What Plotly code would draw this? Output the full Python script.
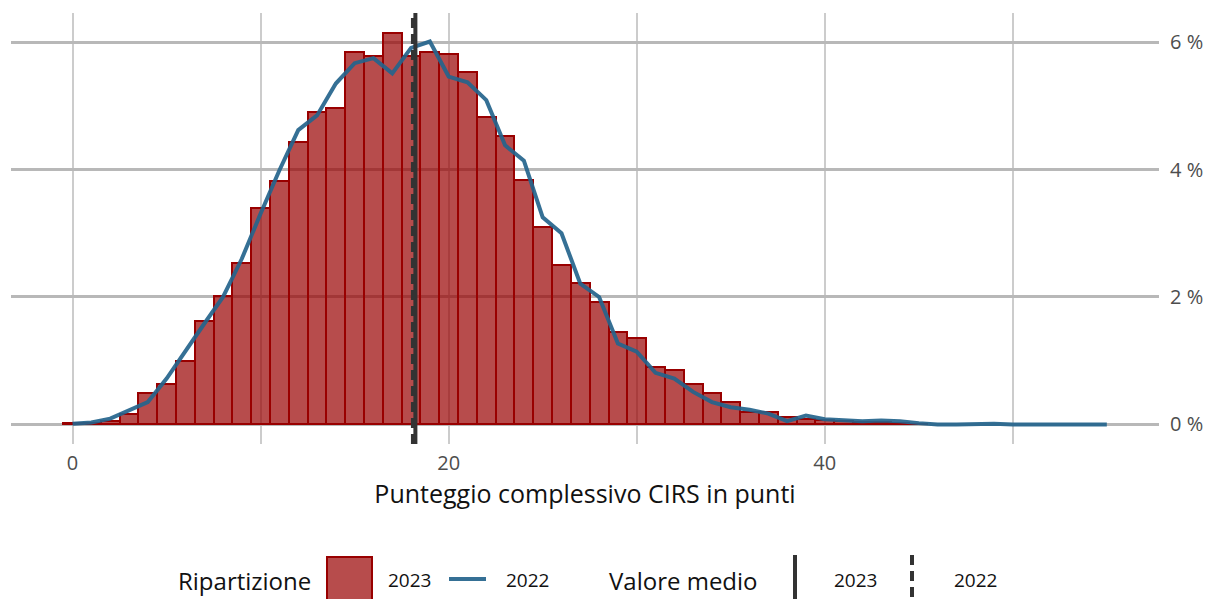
import plotly.graph_objects as go

# ── Data ──────────────────────────────────────────────────────────────────────
# share of patients per CIRS total score (in %), 2023 histogram (bins of 1 point)
score_2023 = list(range(0, 46))
share_2023 = [0.03, 0.02, 0.05, 0.17, 0.49, 0.63, 0.99, 1.63, 2.01, 2.54,
              3.39, 3.82, 4.43, 4.91, 4.96, 5.84, 5.78, 6.15, 5.79, 5.84,
              5.82, 5.53, 4.82, 4.52, 3.83, 3.10, 2.50, 2.22, 1.92, 1.45,
              1.36, 0.90, 0.86, 0.63, 0.50, 0.35, 0.19, 0.19, 0.12, 0.08,
              0.07, 0.05, 0.04, 0.04, 0.02, 0.01]

# 2022 distribution (line)
score_2022 = list(range(0, 56))
share_2022 = [0.01, 0.03, 0.09, 0.22, 0.35, 0.72, 1.16, 1.58, 2.00, 2.60,
              3.31, 3.99, 4.62, 4.85, 5.35, 5.67, 5.75, 5.51, 5.91, 6.01,
              5.46, 5.37, 5.09, 4.38, 4.14, 3.25, 3.00, 2.21, 2.00, 1.27,
              1.14, 0.81, 0.72, 0.51, 0.35, 0.27, 0.23, 0.17, 0.05, 0.14,
              0.08, 0.07, 0.05, 0.06, 0.05, 0.02, 0.00, 0.00, 0.01, 0.01,
              0.00, 0.00, 0.00, 0.00, 0.00, 0.00]

mean_2023 = 18.23
mean_2022 = 18.10

x_ticks = [0, 20, 40]
y_ticks = [0, 2, 4, 6]
y_tick_labels = ["0 %", "2 %", "4 %", "6 %"]

# ── Style ─────────────────────────────────────────────────────────────────────
FONT       = "Open Sans"
BAR_FILL   = "rgba(153,0,0,0.7)"
BAR_LINE   = "#990000"
LINE_2022  = "rgba(36,100,140,0.92)"
MEAN_COLOR = "#333333"
DASH       = "10px,6px"

W, H = 1207, 599
L, R, T, B = 11, 48, 13, 155


def px(x):
    return (x - L) / (W - L - R)


def py(y):
    return (H - B - y) / (H - T - B)


fig = go.Figure()

fig.add_trace(go.Bar(
    x=score_2023, y=share_2023, width=1,
    marker=dict(color=BAR_FILL, line=dict(color=BAR_LINE, width=2)),
    name="2023", showlegend=False,
))

fig.add_trace(go.Scatter(
    x=score_2022, y=share_2022, mode="lines",
    line=dict(color=LINE_2022, width=4),
    name="2022", showlegend=False,
))

# mean lines
fig.add_shape(type="line", xref="x", yref="paper", x0=mean_2023, x1=mean_2023,
              y0=0, y1=1, line=dict(color=MEAN_COLOR, width=4), layer="above")
fig.add_shape(type="line", xref="x", yref="paper", x0=mean_2022, x1=mean_2022,
              y0=0, y1=1, line=dict(color=MEAN_COLOR, width=4, dash=DASH), layer="above")

# ── Custom legend (bottom) ────────────────────────────────────────────────────
ly = 580
fig.add_shape(type="rect", xref="paper", yref="paper",
              x0=px(327), x1=px(372), y0=py(557), y1=py(603),
              fillcolor=BAR_FILL, line=dict(color=BAR_LINE, width=2))
fig.add_shape(type="line", xref="paper", yref="paper",
              x0=px(449), x1=px(486), y0=py(579), y1=py(579),
              line=dict(color=LINE_2022, width=4))
fig.add_shape(type="line", xref="paper", yref="paper",
              x0=px(795), x1=px(795), y0=py(555), y1=py(605),
              line=dict(color=MEAN_COLOR, width=4))
fig.add_shape(type="line", xref="paper", yref="paper",
              x0=px(912), x1=px(912), y0=py(555), y1=py(605),
              line=dict(color=MEAN_COLOR, width=4, dash=DASH))

legend_texts = [
    ("Ripartizione", 176, 24),
    ("2023", 386, 19),
    ("2022", 504, 19),
    ("Valore medio", 607, 24),
    ("2023", 832, 19),
    ("2022", 952, 19),
]
for text, x, size in legend_texts:
    fig.add_annotation(text=text, xref="paper", yref="paper", x=px(x), y=py(ly),
                       xanchor="left", yanchor="middle", showarrow=False,
                       font=dict(family=FONT, size=size, color="#111111"))

fig.update_layout(
    width=W, height=H,
    margin=dict(l=L, r=R, t=T, b=B, autoexpand=False),
    paper_bgcolor="white", plot_bgcolor="white",
    bargap=0, showlegend=False,
    font=dict(family=FONT, color="#4d4d4d"),
    xaxis=dict(
        range=[-3.275, 57.775], tickvals=x_ticks, ticks="",
        showgrid=True, gridcolor="#cccccc", gridwidth=1.5, zeroline=False,
        minor=dict(dtick=10, tick0=0, showgrid=True, gridcolor="#cccccc", gridwidth=1.5),
        tickfont=dict(size=20, color="#4d4d4d"), ticklabelstandoff=5,
        title=dict(text="Punteggio complessivo CIRS in punti",
                   font=dict(size=25, color="#111111"), standoff=1),
    ),
    yaxis=dict(
        range=[-0.3075, 6.4575], tickvals=y_ticks, ticktext=y_tick_labels,
        side="right", ticks="",
        showgrid=True, gridcolor="#b8b8b8", gridwidth=2.5, zeroline=False,
        tickfont=dict(size=20, color="#4d4d4d"), ticklabelstandoff=10,
    ),
)

# drop the default page margin so the figure sits at the window's top-left corner
fig.write_html("out.html", config={"displayModeBar": False},
               post_script="document.body.style.margin='0px';")
